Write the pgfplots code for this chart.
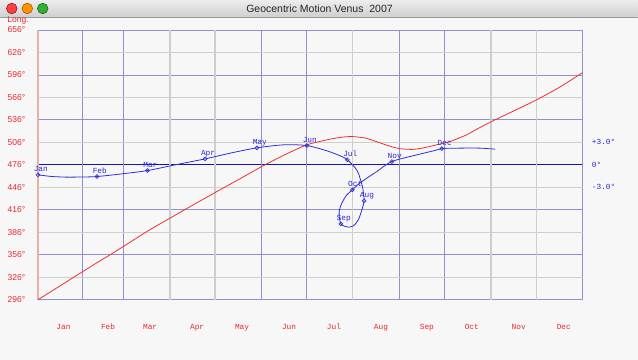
\documentclass[border=0pt]{standalone}
\usepackage{pgfplots}
\pgfplotsset{compat=1.18}
\usepackage{pgfplotstable}
\usepackage{fontspec}
\setmainfont{Liberation Sans}
\newfontfamily\monofont{Liberation Mono}
\definecolor{bgc}{HTML}{F7F7F7}
\definecolor{titletop}{HTML}{EDEDED}
\definecolor{titlebot}{HTML}{CFCFCF}
\definecolor{titleline}{HTML}{9A9A9A}
\definecolor{gridblue}{HTML}{9090D0}
\definecolor{gridgray}{HTML}{CDCFCD}
\definecolor{axispink}{HTML}{E8B0A8}
\definecolor{curvered}{HTML}{F03030}
\definecolor{curveblue}{HTML}{2E2EE0}
\definecolor{zeroblue}{HTML}{1414A8}
\definecolor{labred}{HTML}{E82828}
\definecolor{latblue}{HTML}{2828D8}

\pgfplotstableread{
d L
0 296
10 308.5
20 321
30 333.5
40 346
48.4 356
60 370.5
73 387
88.6 405
100 418
118.7 439
135 457
150 473.7
165 489
180.2 502.7
195.8 510.3
205 513.2
211.4 513.7
220 511.5
229 505.5
237 500.2
243 497.5
251 496.6
258 498.5
267.2 502.7
276.1 507.1
287.3 516
295 524.5
304 533.7
320 549
334.2 562.7
350 580
365 599
}\longdata

\pgfplotstableread{
lon lat
296.0 -1.33
305.0 -1.55
315.3 -1.64
325.0 -1.62
335.3 -1.56
352.0 -1.20
369.0 -0.76
387.4 0.00
407.4 0.80
425.0 1.60
441.9 2.27
459.6 2.67
475.2 2.57
488.5 1.87
497.4 1.20
502.2 0.67
508.4 -0.67
510.6 -1.78
512.4 -3.10
513.3 -4.80
511.8 -6.00
509.5 -7.33
506.2 -8.13
502.9 -8.31
499.5 -8.13
497.8 -7.87
496.7 -6.89
496.9 -6.00
498.5 -5.10
501.3 -4.13
505.5 -3.33
509.5 -2.58
515.1 -1.78
521.8 -0.89
531.8 0.44
548.4 1.33
559.5 1.87
565.1 2.17
577.3 2.23
590.6 2.23
600.6 2.09
}\latdata

\pgfplotstableread{
lon lat name
296.0 -1.33 Jan
335.3 -1.56 Feb
369.0 -0.76 Mar
407.4 0.80 Apr
441.9 2.27 May
475.2 2.57 Jun
502.2 0.67 Jul
513.3 -4.80 Aug
497.8 -7.87 Sep
505.5 -3.33 Oct
531.8 0.44 Nov
565.1 2.17 Dec
}\monthpts

\begin{document}
\begin{tikzpicture}[x=1pt,y=1pt]
\fill[bgc] (0,0) rectangle (638,360);
\shade[top color=titletop, bottom color=titlebot] (0,343) rectangle (638,360);
\draw[titleline, line width=0.6pt] (0,343) -- (638,343);
\node[font=\fontsize{10.5}{12}\selectfont, text=black!85] at (319.5,351.3) {Geocentric Motion Venus\ \ 2007};
\filldraw[fill=red!75!white, draw=red!55!black, line width=0.5pt] (11.5,351.5) circle (5.3);
\filldraw[fill=orange!85!yellow, draw=orange!60!black, line width=0.5pt] (27,351.5) circle (5.3);
\filldraw[fill=green!60!black!80!white, draw=green!40!black, line width=0.5pt] (42.5,351.5) circle (5.3);
\node[anchor=west, inner sep=0pt, font=\fontsize{8.5}{10}\selectfont, text=labred] at (7,340) {Long.};

% latitude axis (right)
\begin{axis}[at={(37.7pt,60pt)}, anchor=south west, width=545.3pt, height=270pt, scale only axis,
  xmin=0, xmax=1, ymin=-18, ymax=18,
  hide x axis, axis y line*=right, y axis line style={draw=none},
  ytick={-3,0,3}, yticklabels={-3.0°,0°,+3.0°},
  major tick length=0pt, minor tick length=0pt,
  yticklabel style={font=\monofont\fontsize{7.8}{9}\selectfont, text=latblue, anchor=west, inner sep=0pt, xshift=9pt},
  extra y ticks={0}, extra y tick labels={},
  extra y tick style={grid=major, major grid style={zeroblue, line width=0.75pt}},
]
\node[anchor=west, inner sep=0pt, font=\monofont\fontsize{7.8}{9}\selectfont, text=latblue, xshift=9pt] at (rel axis cs:1,0.6407) {Latit.};
\end{axis}

% longitude axis (main)
\begin{axis}[at={(37.7pt,60pt)}, anchor=south west, width=545.3pt, height=270pt, scale only axis,
  xmin=0, xmax=365.2, ymin=296, ymax=656, clip=false,
  axis line style={draw=none},
  xtick={17.1,47,75.2,106.7,136.8,168.3,198.4,229.9,260.7,290.8,322.3,352.5},
  xticklabels={Jan,Feb,Mar,Apr,May,Jun,Jul,Aug,Sep,Oct,Nov,Dec},
  xticklabel style={font=\monofont\fontsize{7.8}{9}\selectfont, text=labred, anchor=base, yshift=-30pt},
  ytick={296,326,356,386,416,446,476,506,536,566,596,626,656},
  yticklabels={296°,326°,356°,386°,416°,446°,476°,506°,536°,566°,596°,626°,656°},
  yticklabel style={font=\fontsize{8.5}{10}\selectfont, text=labred, anchor=east, inner sep=0pt, xshift=-12.5pt},
  minor xtick={0,29.5,57.5,149.7,180,242,272.3,365.2},
  minor ytick={296,356,416,536,596,656},
  xminorgrids, yminorgrids, minor grid style={gridblue, line width=0.8pt},
  extra x ticks={88.5,118.7,211,303.7,334}, extra x tick labels={},
  extra x tick style={grid=major, major grid style={gridgray, line width=1.3pt}},
  extra y ticks={326,386,446,506,566,626}, extra y tick labels={},
  extra y tick style={grid=major, major grid style={gridgray, line width=1.3pt}},
  major tick length=0pt, minor tick length=0pt,
]
\draw[axispink, line width=1.8pt] (axis cs:0,296) -- (axis cs:0,656);
\addplot[curvered, line width=0.8pt, smooth, tension=0.4] table[x=d, y=L] {\longdata};
\addplot[curveblue, line width=0.8pt, smooth, tension=0.5] table[x expr={(\thisrow{lon}-296)*365.2/363}, y expr={476+10*\thisrow{lat}}] {\latdata};
\addplot[only marks, mark=o, mark size=1.9pt, curveblue, mark options={fill=bgc, line width=0.7pt},
  nodes near coords, point meta=explicit symbolic,
  nodes near coords style={anchor=base west, xshift=-4.5pt, yshift=3pt, inner sep=0pt, font=\monofont\fontsize{7.8}{9}\selectfont, text=latblue}]
  table[x expr={(\thisrow{lon}-296)*365.2/363}, y expr={476+10*\thisrow{lat}}, meta=name] {\monthpts};
\end{axis}
\end{tikzpicture}
\end{document}
